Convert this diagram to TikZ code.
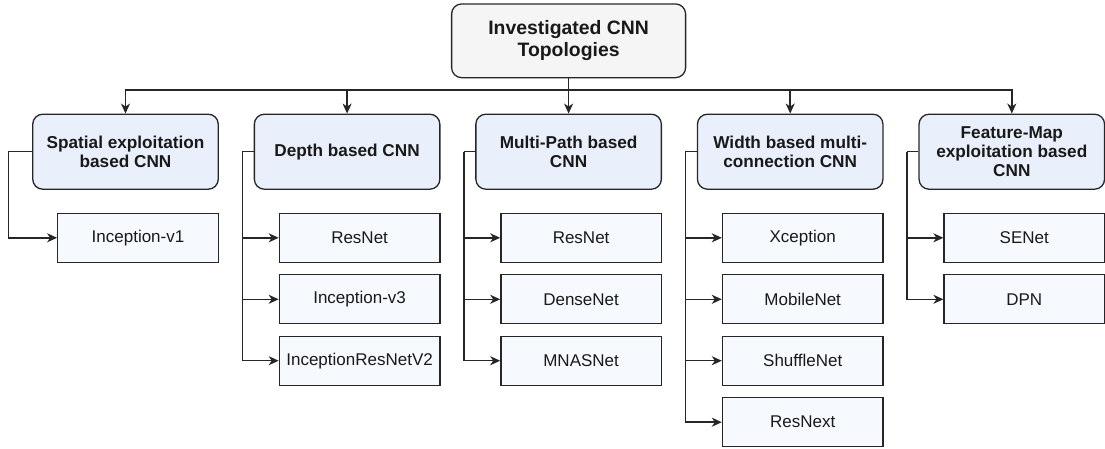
\documentclass[tikz,border=0pt]{standalone}
\usepackage{fontspec}
\setmainfont{Liberation Sans}
\usetikzlibrary{arrows.meta}
\definecolor{strk}{HTML}{262626}
\definecolor{topfill}{HTML}{F5F5F5}
\definecolor{catfill}{HTML}{E9F0FB}
\definecolor{kidfill}{HTML}{F6FAFE}
\tikzset{
  base/.style={draw=strk, line width=1.3pt, align=center, inner sep=0pt, font=\fontsize{17}{18.7}\selectfont, text=black!90},
  topbox/.style={base, fill=topfill, rounded corners=10pt, minimum width=234pt, minimum height=73.7pt, font=\fontsize{19.4}{22}\selectfont\bfseries},
  catbox/.style={base, fill=catfill, rounded corners=10pt, minimum width=185.5pt, minimum height=75pt, font=\fontsize{17.2}{18.7}\selectfont\bfseries},
  kidbox/.style={base, fill=kidfill, minimum width=160.5pt, minimum height=49pt},
  conn/.style={draw=strk, line width=1.5pt},
  arr/.style={conn, -{Stealth[length=10pt,width=9pt,inset=3pt]}}
}
\begin{document}
\begin{tikzpicture}[x=1pt,y=-1pt]
\useasboundingbox (0,0) rectangle (1105,448);
% top
\node[topbox] (top) at (568.6,40.8) {Investigated CNN\\Topologies};
% categories
\node[catbox] (c1) at (125.5,151.7) {Spatial exploitation\\based CNN};
\node[catbox] (c2) at (347.1,151.7) {Depth based CNN};
\node[catbox] (c3) at (568.6,151.7) {Multi-Path based\\CNN};
\node[catbox] (c4) at (790.2,151.7) {Width based multi-\\connection CNN};
\node[catbox] (c5) at (1011.8,151.7) {Feature-Map\\exploitation based\\CNN};
% children
\node[kidbox] (k11) at (138.0,237.8) {Inception-v1};
\node[kidbox] (k21) at (359.6,237.8) {ResNet};
\node[kidbox] (k22) at (359.6,299.3) {Inception-v3};
\node[kidbox] (k23) at (359.6,360.7) {InceptionResNetV2};
\node[kidbox] (k31) at (581.1,237.8) {ResNet};
\node[kidbox] (k32) at (581.1,299.3) {DenseNet};
\node[kidbox] (k33) at (581.1,360.7) {MNASNet};
\node[kidbox] (k41) at (802.7,237.8) {Xception};
\node[kidbox] (k42) at (802.7,299.3) {MobileNet};
\node[kidbox] (k43) at (802.7,360.7) {ShuffleNet};
\node[kidbox] (k44) at (802.7,422.2) {ResNext};
\node[kidbox] (k51) at (1024.3,237.8) {SENet};
\node[kidbox] (k52) at (1024.3,299.3) {DPN};
% bus
\coordinate (bus) at (568.6,90);
\draw[conn] (top.south) -- (bus);
\foreach \c in {c1,c2,c3,c4,c5}{
  \draw[arr] (bus) -| (\c.north);
}
% branch verticals
\coordinate (v1) at (8.3,151.7);
\coordinate (v2) at (242.3,151.7);
\coordinate (v3) at (464,151.7);
\coordinate (v4) at (685.3,151.7);
\coordinate (v5) at (906.9,151.7);
\draw[conn] (c1.west) -- (v1);
\draw[conn] (c2.west) -- (v2);
\draw[conn] (c3.west) -- (v3);
\draw[conn] (c4.west) -- (v4);
\draw[conn] (c5.west) -- (v5);
\draw[arr] (v1) |- (k11.west);
\foreach \k in {k21,k22,k23}{ \draw[arr] (v2) |- (\k.west); }
\foreach \k in {k31,k32,k33}{ \draw[arr] (v3) |- (\k.west); }
\foreach \k in {k41,k42,k43,k44}{ \draw[arr] (v4) |- (\k.west); }
\foreach \k in {k51,k52}{ \draw[arr] (v5) |- (\k.west); }
\end{tikzpicture}
\end{document}
